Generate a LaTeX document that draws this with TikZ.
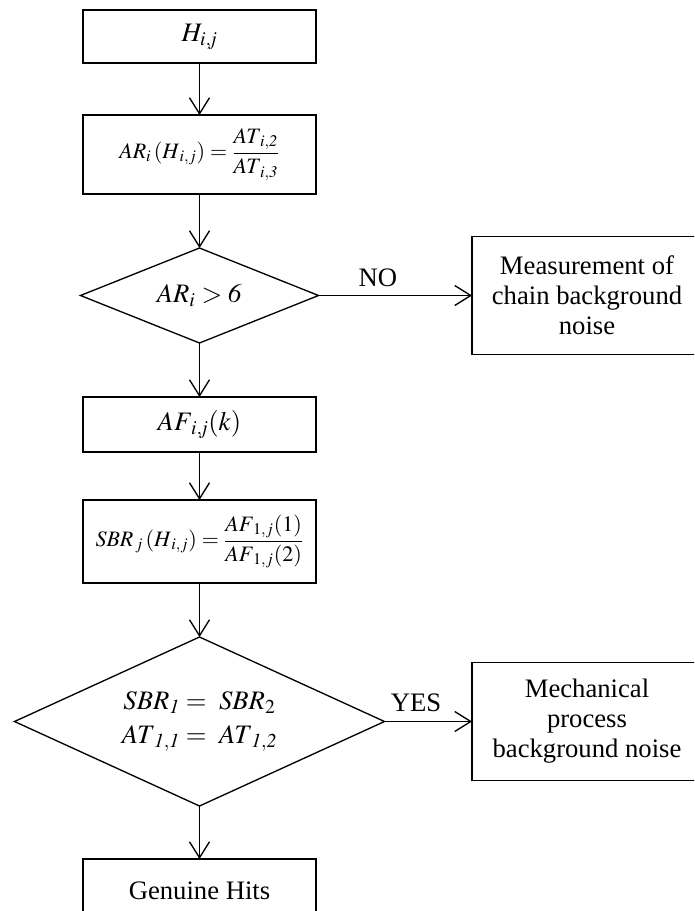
\documentclass[tikz,border=0pt]{standalone}
\usepackage{mathptmx}
\usepackage[no-math]{fontspec}
\setmainfont{Liberation Serif}
\usetikzlibrary{shapes.geometric,arrows.meta}
\begin{document}
\begin{tikzpicture}[x=0.75pt,y=-0.75pt,line width=1pt,
  txt/.style={font=\fontsize{20}{22.5}\selectfont,align=center},
  eqf/.style={font=\fontsize{16.5}{20}\selectfont},
  box/.style={draw,line width=1pt,inner sep=0pt,outer sep=0pt,minimum width=174.75pt,txt},
  sidebox/.style={draw,line width=1pt,inner sep=0pt,outer sep=0pt,minimum width=172.5pt,minimum height=88.5pt,txt},
  dia/.style={draw,line width=1pt,shape=diamond,inner sep=0pt,outer sep=0pt},
  arr/.style={-{Straight Barb[length=12pt,width=15pt,line width=1pt]},line width=1pt}]
\useasboundingbox (0,0) rectangle (694,911);
\clip (0,0) rectangle (694,911);
% main column
\node[box,minimum height=39.75pt] (b1) at (199.5,36.5) {$H_{\mathit{i,j}}$};
\node[box,minimum height=59.25pt,eqf] (b2) at (199.5,154.5)
  {$\displaystyle \mathit{AR}_{i}\left(H_{\,i,j}\right)=\frac{\mathit{AT}_{\mathit{i,2}}}{\mathit{AT}_{\mathit{i,3}}}$};
\node[dia,minimum width=178.5pt,minimum height=71.25pt] (d1) at (199.5,295.5) {};
\node[txt] (d1t) at (d1) {$\mathit{AR}_{i} > \mathit{6}$};
\node[box,minimum height=41.25pt] (b3) at (199.5,424.5) {$\mathit{AF}_{\mathit{i,j}}\mathit{(k)}$};
\node[box,minimum height=62.25pt,eqf] (b4) at (199.5,541.5)
  {$\displaystyle \mathit{SBR}_{\,j}\left(H_{\,i,j}\right)=\frac{\mathit{AF}_{1,j}(1)}{\mathit{AF}_{1,j}(2)}$};
\node[dia,minimum width=277.5pt,minimum height=126.75pt] (d2) at (199.5,721.5) {};
\node[txt,font=\fontsize{20}{25.5}\selectfont] (d2t) at (d2)
  {$\mathit{SBR}_{\mathit{1}} =\ \mathit{SBR}_{2}$\\ $\mathit{AT}_{\mathit{1,1}} =\ \mathit{AT}_{\mathit{1,2}}$};
\node[box,minimum height=48pt] (b5) at (199.5,891) {Genuine Hits};
% side boxes
\node[sidebox] (m1) at (587,295.5) {Measurement of\\chain background\\noise};
\node[sidebox] (m2) at (587,721.5) {Mechanical\\process\\background noise};
% connectors
\draw[arr] (b1.south) -- (b2.north);
\draw[arr] (b2.south) -- (d1.north);
\draw[arr] (d1.south) -- (b3.north);
\draw[arr] (b3.south) -- (b4.north);
\draw[arr] (b4.south) -- (d2.north);
\draw[arr] (d2.south) -- (b5.north);
\draw[arr] (d1.east) -- (m1.west);
\draw[arr] (d2.east) -- (m2.west);
% labels
\node[txt] (no) at (378,278) {NO};
\node[txt] (yes) at (416,703) {YES};
\end{tikzpicture}
\end{document}
